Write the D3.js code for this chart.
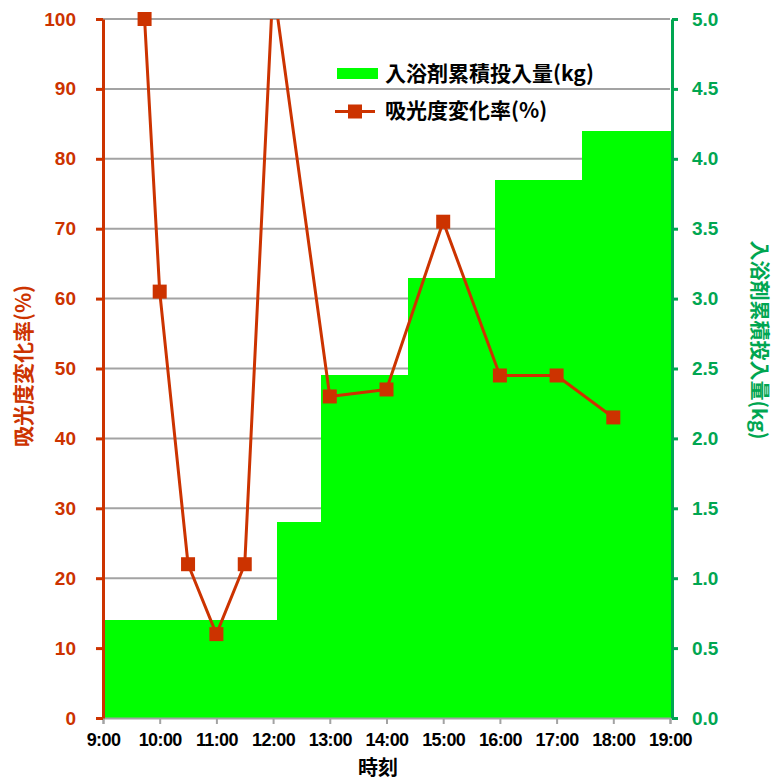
<!DOCTYPE html>
<html>
<head>
<meta charset="utf-8">
<script src="https://cdn.jsdelivr.net/npm/d3@7"></script>
<style>
  html, body { margin: 0; padding: 0; background: #fff; }
  svg { display: block; }
  text { font-family: "Liberation Sans", Arial, "Noto Sans CJK JP", sans-serif; font-weight: bold; }
  .jp { font-family: "Noto Sans CJK JP", "Liberation Sans", sans-serif; font-weight: bold; }
</style>
</head>
<body>
<svg id="chart" width="775" height="781"></svg>
<script>
// Cumulative bath additive dose (kg), one value per dosing slot
const doseSlots = ["1","2","3","4","5","6","7","8","9","10","11","12","13"];
const doseKg = [0.7, 0.7, 0.7, 0.7, 1.4, 2.45, 2.45, 3.15, 3.15, 3.85, 3.85, 4.2, 4.2];

// Absorbance change rate (%) at measurement times
const sampleTimes = ["9:44","10:00","10:30","11:00","11:30","12:00","13:00","14:00","15:00","16:00","17:00","18:00"];
const absorbanceChange = [100, 61, 22, 12, 22, 105, 46, 47, 71, 49, 49, 43];

// Axis ticks
const hourTicks = [9, 10, 11, 12, 13, 14, 15, 16, 17, 18, 19];
const pctTicks = [0, 10, 20, 30, 40, 50, 60, 70, 80, 90, 100];
const kgTicks = [0, 0.5, 1.0, 1.5, 2.0, 2.5, 3.0, 3.5, 4.0, 4.5, 5.0];

const RED = "#cc3300";
const GREEN_AXIS = "#00a651";
const GREEN_BAR = "#00ff00";
const GRID = "#a3a3a3";

const plotL = 103, plotR = 670, plotT = 19, plotB = 718;

const svg = d3.select("#chart");

const toHours = s => { const [h, m] = s.split(":").map(Number); return h + m / 60; };

const x = d3.scaleLinear().domain([9, 19]).range([plotL, plotR]);
const xBand = d3.scaleBand().domain(doseSlots).range([plotL, plotR]).padding(0);
const yPct = d3.scaleLinear().domain([0, 100]).range([plotB, plotT]);
const yKg = d3.scaleLinear().domain([0, 5]).range([plotB, plotT]);

// Horizontal gridlines
svg.append("g")
  .selectAll("line")
  .data(pctTicks.filter(d => d > 0))
  .join("line")
  .attr("x1", plotL).attr("x2", plotR)
  .attr("y1", d => yPct(d)).attr("y2", d => yPct(d))
  .attr("stroke", GRID).attr("stroke-width", 2);

// Cumulative dose columns (no gap between them)
svg.append("g")
  .attr("shape-rendering", "crispEdges")
  .selectAll("rect")
  .data(doseKg)
  .join("rect")
  .attr("x", (d, i) => Math.floor(xBand(doseSlots[i])))
  .attr("width", (d, i) => Math.ceil(xBand(doseSlots[i]) + xBand.bandwidth()) - Math.floor(xBand(doseSlots[i])) + 1)
  .attr("y", d => yKg(d))
  .attr("height", d => plotB - yKg(d))
  .attr("fill", GREEN_BAR);

// Bottom axis
const xAxis = svg.append("g")
  .attr("transform", `translate(0,${plotB})`)
  .call(d3.axisBottom(x).tickValues(hourTicks).tickSize(6).tickPadding(9)
    .tickFormat(d => d + ":00"));
xAxis.select(".domain").attr("stroke", GRID).attr("stroke-width", 2);
xAxis.selectAll(".tick line").attr("stroke", GRID).attr("stroke-width", 2);
xAxis.selectAll("text").attr("fill", "#000").attr("font-size", 18)
  .attr("letter-spacing", -0.6);

// Left axis (absorbance change rate)
const yAxisL = svg.append("g")
  .attr("transform", `translate(${plotL},0)`)
  .call(d3.axisLeft(yPct).tickValues(pctTicks).tickSize(7).tickPadding(20).tickSizeOuter(0));
yAxisL.select(".domain").attr("stroke", RED).attr("stroke-width", 3);
yAxisL.selectAll(".tick line").attr("stroke", RED).attr("stroke-width", 3);
yAxisL.selectAll("text").attr("fill", RED).attr("font-size", 19);

// Right axis (cumulative dose)
const yAxisR = svg.append("g")
  .attr("transform", `translate(${plotR + 2},0)`)
  .call(d3.axisRight(yKg).tickValues(kgTicks).tickSize(6).tickPadding(14).tickSizeOuter(0)
    .tickFormat(d3.format(".1f")));
yAxisR.select(".domain").attr("stroke", GREEN_AXIS).attr("stroke-width", 3);
yAxisR.selectAll(".tick line").attr("stroke", GREEN_AXIS).attr("stroke-width", 3);
yAxisR.selectAll("text").attr("fill", GREEN_AXIS).attr("font-size", 19);

// Absorbance line, clipped to the plot area
svg.append("clipPath").attr("id", "plotClip")
  .append("rect").attr("x", plotL).attr("y", plotT).attr("width", plotR - plotL).attr("height", plotB - plotT);

const pts = sampleTimes.map((t, i) => ({ t: toHours(t), v: absorbanceChange[i] }));

svg.append("path")
  .datum(pts)
  .attr("clip-path", "url(#plotClip)")
  .attr("fill", "none")
  .attr("stroke", RED)
  .attr("stroke-width", 3)
  .attr("stroke-linejoin", "round")
  .attr("d", d3.line().x(d => x(d.t)).y(d => yPct(d.v)));

const ms = 14;
svg.append("g")
  .selectAll("rect")
  .data(pts.filter(d => d.v <= 100))
  .join("rect")
  .attr("x", d => x(d.t) - ms / 2)
  .attr("y", d => yPct(d.v) - ms / 2)
  .attr("width", ms).attr("height", ms)
  .attr("fill", RED);

// Legend
const lg = svg.append("g");
lg.append("rect").attr("x", 337).attr("y", 68).attr("width", 41).attr("height", 11).attr("fill", GREEN_BAR);
lg.append("text").attr("class", "jp").attr("x", 385).attr("y", 74).attr("dy", "0.35em")
  .attr("font-size", 21).attr("fill", "#000").text("入浴剤累積投入量(kg)");
lg.append("line").attr("x1", 335).attr("x2", 375).attr("y1", 111.5).attr("y2", 111.5)
  .attr("stroke", RED).attr("stroke-width", 3);
lg.append("rect").attr("x", 355 - ms / 2).attr("y", 111.5 - ms / 2).attr("width", ms).attr("height", ms).attr("fill", RED);
lg.append("text").attr("class", "jp").attr("x", 385).attr("y", 111).attr("dy", "0.35em")
  .attr("font-size", 21).attr("fill", "#000").text("吸光度変化率(%)");

// Axis titles
svg.append("text").attr("class", "jp")
  .attr("transform", "translate(24,366) rotate(-90)")
  .attr("text-anchor", "middle").attr("dy", "0.35em")
  .attr("font-size", 21).attr("fill", RED).text("吸光度変化率(%)");

svg.append("text").attr("class", "jp")
  .attr("transform", "translate(759,340) rotate(90)")
  .attr("text-anchor", "middle").attr("dy", "0.35em")
  .attr("font-size", 20).attr("fill", GREEN_AXIS).text("入浴剤累積投入量(kg)");

svg.append("text").attr("class", "jp")
  .attr("x", 378).attr("y", 768).attr("dy", "0.35em")
  .attr("text-anchor", "middle").attr("font-size", 20).attr("fill", "#000").text("時刻");
</script>
</body>
</html>
